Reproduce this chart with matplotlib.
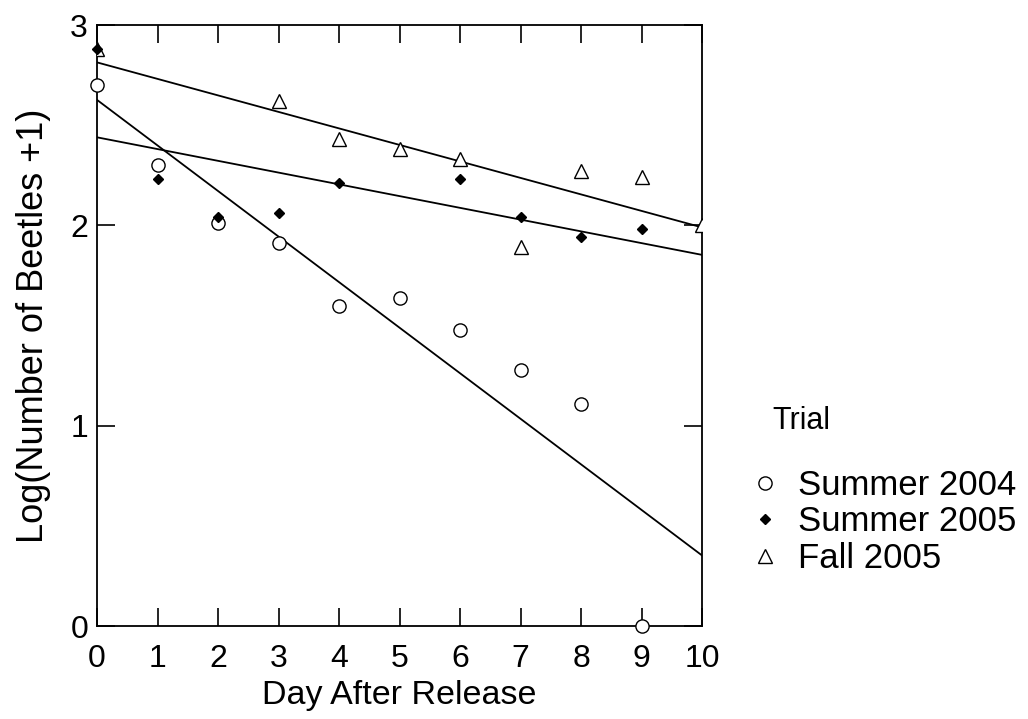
import numpy as np
import matplotlib
matplotlib.use("Agg")
import matplotlib.pyplot as plt

plt.rcParams['font.family'] = ['Liberation Sans', 'DejaVu Sans']

# Dados
dias_s04 = [0, 1, 2, 3, 4, 5, 6, 7, 8, 9]
log_s04 = [2.70, 2.30, 2.01, 1.91, 1.60, 1.64, 1.48, 1.28, 1.11, 0.0]

dias_s05 = [0, 1, 2, 3, 4, 6, 7, 8, 9]
log_s05 = [2.88, 2.23, 2.04, 2.06, 2.21, 2.23, 2.04, 1.94, 1.98]

dias_f05 = [0, 3, 4, 5, 6, 7, 8, 9, 10]
log_f05 = [2.88, 2.62, 2.43, 2.38, 2.33, 1.89, 2.27, 2.24, 2.00]

fig = plt.figure(figsize=(10.28, 7.19), dpi=100)
ax = fig.add_axes([0.0944, 0.1293, 0.5886, 0.8358])

xx = np.array([0, 10])
# Retas de regressão
for d, v in [(dias_s04, log_s04), (dias_s05, log_s05), (dias_f05, log_f05)]:
    b, a = np.polyfit(d, v, 1)
    ax.plot(xx, a + b * xx, color='black', lw=1.3)

ax.plot(dias_s04, log_s04, 'o', mfc='white', mec='black', mew=1.0, ms=9.5,
        label='Summer 2004', clip_on=False, zorder=3)
ax.plot(dias_f05, log_f05, '^', mfc='white', mec='black', mew=1.0, ms=9.5,
        label='Fall 2005', zorder=3)
ax.plot(dias_s05, log_s05, 'D', mfc='black', mec='black', ms=5,
        label='Summer 2005', clip_on=False, zorder=4)

ax.set_xlim(0, 10)
ax.set_ylim(0, 3)
ax.set_xticks(range(0, 11))
ax.set_yticks([0, 1, 2, 3])
ax.tick_params(direction='in', length=13, width=1.2, top=True, right=True,
               labelsize=23)
ax.tick_params(axis='x', pad=13)
ax.tick_params(axis='y', pad=6.5)
for s in ax.spines.values():
    s.set_linewidth(1.3)

ax.set_xlabel("Day After Release", fontsize=24.5, labelpad=4)
ax.set_ylabel("Log(Number of Beetles +1)", fontsize=26, labelpad=14)

# Legenda
h, l = ax.get_legend_handles_labels()
ordem = [0, 2, 1]
ax.legend([h[i] for i in ordem], [l[i] for i in ordem], frameon=False,
          fontsize=25, loc='upper left', bbox_to_anchor=(748 / 1028, 0.348),
          bbox_transform=fig.transFigure, handletextpad=0.45,
          handlelength=1.0, labelspacing=0.1, borderpad=0, borderaxespad=0)
fig.text(772 / 1028, 1 - 421 / 719, 'Trial', fontsize=22, va='center')

fig.savefig("out.png", dpi=100)
